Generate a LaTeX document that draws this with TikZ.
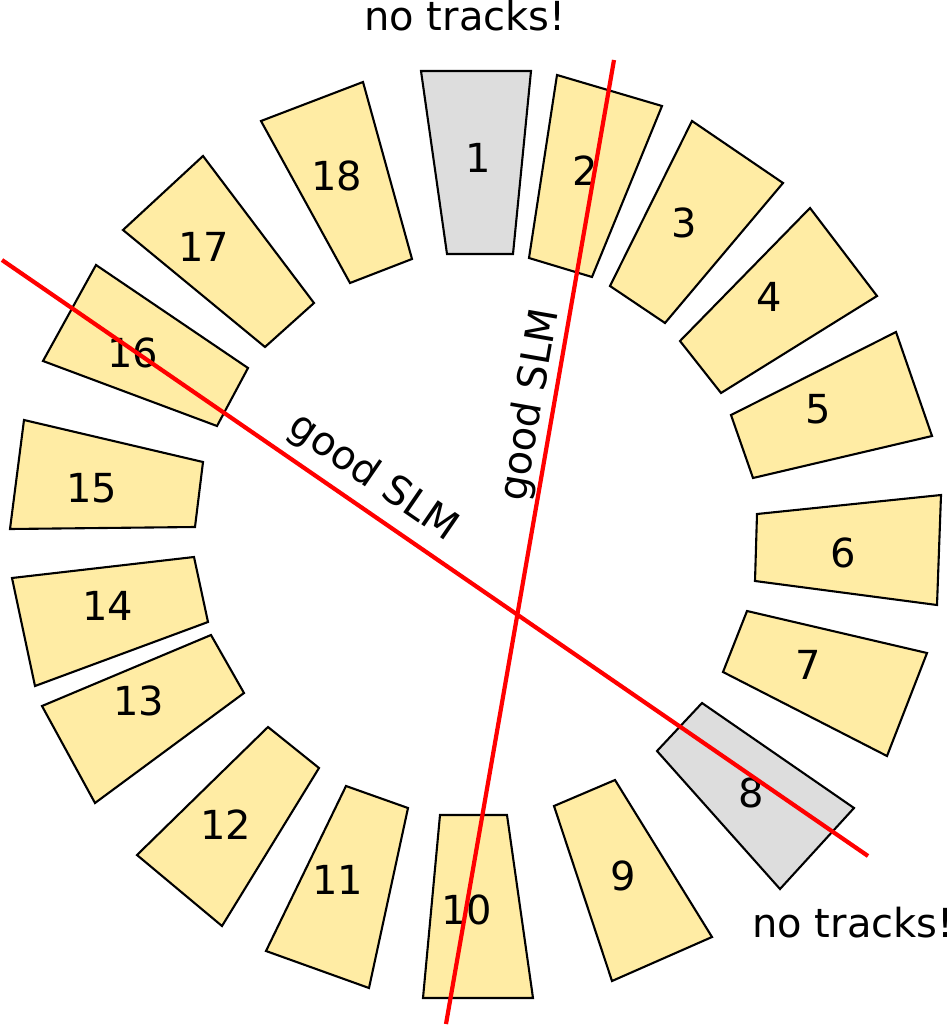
\documentclass[tikz,border=0pt]{standalone}
\usepackage{fontspec}
\setmainfont{DejaVu Sans}
\definecolor{segyellow}{HTML}{FFECA4}
\definecolor{seggray}{HTML}{DDDDDD}
\begin{document}
\begin{tikzpicture}[x=1pt,y=-1pt,
  seg/.style={draw=black, line width=2.1pt, line join=miter, fill=segyellow},
  dead/.style={seg, fill=seggray},
  num/.style={font=\fontsize{40}{48}\selectfont, inner sep=0pt},
  lbl/.style={font=\fontsize{40}{48}\selectfont, inner sep=0pt},
  slm/.style={draw=red, line width=4.2pt}]
\useasboundingbox (0,0) rectangle (951,1027);
% segments
\draw[dead] (421,71) -- (531,71) -- (513,254) -- (447,254) -- cycle;
\draw[seg] (557,75) -- (662,106) -- (592,277) -- (529,258) -- cycle;
\draw[seg] (692,121) -- (783,183) -- (665,323) -- (610,286) -- cycle;
\draw[seg] (810,208) -- (877,296) -- (721,393) -- (680,341) -- cycle;
\draw[seg] (896,332) -- (932,436) -- (753,478) -- (731,415) -- cycle;
\draw[seg] (757,514) -- (941,495) -- (937,605) -- (755,581) -- cycle;
\draw[seg] (747,611) -- (927,653) -- (887,756) -- (723,672) -- cycle;
\draw[dead] (702,703) -- (854,808) -- (780,889) -- (657,751) -- cycle;
\draw[seg] (615,780) -- (712,937) -- (612,981) -- (554,806) -- cycle;
\draw[seg] (440,815) -- (507,815) -- (533,998) -- (423,998) -- cycle;
\draw[seg] (346,786) -- (408,808) -- (369,988) -- (266,951) -- cycle;
\draw[seg] (268,727) -- (319,768) -- (222,926) -- (137,855) -- cycle;
\draw[seg] (211,635) -- (244,693) -- (95,803) -- (42,706) -- cycle;
\draw[seg] (12,578) -- (194,557) -- (208,622) -- (35,686) -- cycle;
\draw[seg] (24,420) -- (203,462) -- (195,527) -- (10,529) -- cycle;
\draw[seg] (96,265) -- (248,368) -- (217,426) -- (43,361) -- cycle;
\draw[seg] (203,156) -- (314,303) -- (265,347) -- (123,230) -- cycle;
\draw[seg] (363,82) -- (412,259) -- (350,283) -- (261,121) -- cycle;
% numbers
\node[num] (n1) at (478,158) {1};
\node[num] (n2) at (585,171) {2};
\node[num] (n3) at (684,223) {3};
\node[num] (n4) at (769,297) {4};
\node[num] (n5) at (818,409) {5};
\node[num] (n6) at (843,553) {6};
\node[num] (n7) at (808,665) {7};
\node[num] (n8) at (751,793) {8};
\node[num] (n9) at (623,876) {9};
\node[num] (n10) at (467,910) {10};
\node[num] (n11) at (338,880) {11};
\node[num] (n12) at (226,825) {12};
\node[num] (n13) at (139,701) {13};
\node[num] (n14) at (108,606) {14};
\node[num] (n15) at (92,488) {15};
\node[num] (n16) at (133,353) {16};
\node[num] (n17) at (204,247) {17};
\node[num] (n18) at (337,176) {18};
% labels
\node[lbl, anchor=base] (nt1) at (465,31) {no tracks!};
\node[lbl, anchor=base] (nt2) at (853,937) {no tracks!};
\node[lbl, rotate=-34.5] (g1) at (373,478) {good SLM};
\node[lbl, rotate=80.1] (g2) at (531,405) {good SLM};
% red lines
\coordinate (a1) at (2,260);
\coordinate (a2) at (868,856);
\coordinate (b1) at (614,60);
\coordinate (b2) at (446,1024);
\draw[slm] (a1) -- (a2);
\draw[slm] (b1) -- (b2);
\end{tikzpicture}
\end{document}
